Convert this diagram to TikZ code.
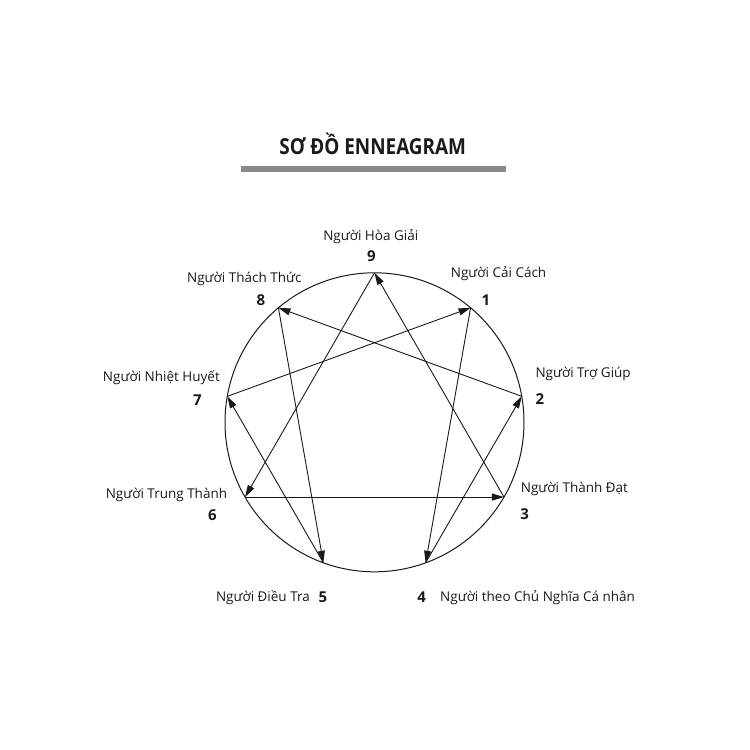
\documentclass[tikz,border=0pt]{standalone}
\usepackage{fontspec}
\setmainfont{Open Sans}
\newfontfamily\titlefont[FakeStretch=0.86]{Open Sans}
\usetikzlibrary{arrows.meta,calc}
\definecolor{ink}{HTML}{1A1A1A}
\definecolor{bar}{HTML}{8A8A8A}
\begin{document}
\begin{tikzpicture}[x=1pt,y=-1pt,
  lbl/.style={inner sep=0pt,text=ink,font=\fontsize{13.5}{15}\selectfont},
  num/.style={inner sep=0pt,text=ink,font=\fontsize{15}{16}\selectfont\bfseries,anchor=base},
  arr/.style={line width=0.9pt,ink,-{Triangle[length=12pt,width=7pt]}},
  ring/.style={line width=1pt,ink}]
\path[use as bounding box,fill=white] (0,0) rectangle (750,750);
% title
\node[inner sep=0pt,anchor=base,text=ink,font=\titlefont\fontsize{22}{24}\selectfont\bfseries] (title) at (372.7,154) {SƠ ĐỒ ENNEAGRAM};
\fill[bar] (240.7,166) rectangle (506,172);
% circle
\coordinate (c) at (374.5,422.3);
\draw[ring] (c) circle[radius=149.5pt];
\foreach \k/\a in {9/90,1/50,2/10,3/-30,4/-70,5/-110,6/-150,7/170,8/130}
  \coordinate (p\k) at ($(c)+(\a:149.5pt)$);
% connectors
\draw[arr] (p1) -- (p4);
\draw[arr] (p4) -- (p2);
\draw[arr] (p2) -- (p8);
\draw[arr] (p8) -- (p5);
\draw[arr] (p5) -- (p7);
\draw[arr] (p7) -- (p1);
\draw[arr] (p9) -- (p6);
\draw[arr] (p6) -- (p3);
\draw[arr] (p3) -- (p9);
% labels
\node[lbl,anchor=base] (l9) at (370.8,240) {Người Hòa Giải};
\node[lbl,anchor=base east] (l8) at (301.7,282.7) {Người Thách Thức};
\node[lbl,anchor=base east] (l7) at (220,381.7) {Người Nhiệt Huyết};
\node[lbl,anchor=base east] (l6) at (227.3,498.7) {Người Trung Thành};
\node[lbl,anchor=base east] (l5) at (310,601.7) {Người Điều Tra};
\node[lbl,anchor=base west] (l1) at (450.7,277.7) {Người Cải Cách};
\node[lbl,anchor=base west] (l2) at (535.3,377.3) {Người Trợ Giúp};
\node[lbl,anchor=base west] (l3) at (520.7,492.7) {Người Thành Đạt};
\node[lbl,anchor=base west] (l4) at (440,601.7) {Người theo Chủ Nghĩa Cá nhân};
% numbers
\node[num] (n9) at (371.5,261) {9};
\node[num] (n8) at (261,305) {8};
\node[num] (n7) at (197.3,405) {7};
\node[num] (n6) at (212.3,520) {6};
\node[num] (n5) at (323,602) {5};
\node[num] (n1) at (486,305) {1};
\node[num] (n2) at (540,404.5) {2};
\node[num] (n3) at (524.7,519.5) {3};
\node[num] (n4) at (421.7,602) {4};
\end{tikzpicture}
\end{document}
